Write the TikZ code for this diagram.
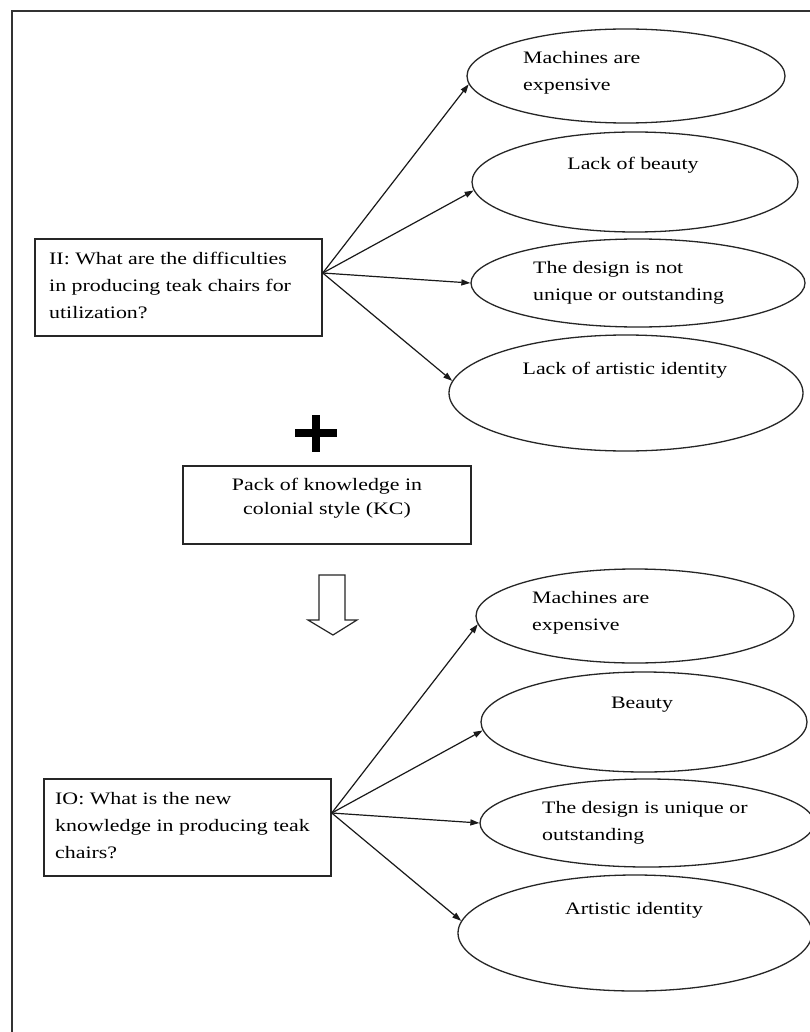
\documentclass[tikz,border=0pt]{standalone}
\usepackage{fontspec}
\setmainfont{Liberation Serif}[FakeStretch=1.25]
\usetikzlibrary{shapes.geometric,arrows.meta}
\begin{document}
\begin{tikzpicture}[x=1pt,y=-1pt,
  frame/.style={draw=black!80,line width=2pt},
  qbox/.style={draw=black!85,line width=1.5pt,rectangle,inner sep=0pt},
  oval/.style={draw=black!85,line width=1.3pt,ellipse,inner sep=0pt},
  txt/.style={inner sep=0pt,font=\fontsize{17.5}{27}\selectfont,align=left},
  link/.style={draw=black!90,line width=1.2pt,-{Triangle[length=9pt,width=6pt]}},
  hollow/.style={draw=black!85,line width=1.2pt,line join=miter,fill=white},
]
\clip (0,0) rectangle (810,1032);
\fill[white] (0,0) rectangle (810,1032);
\draw[frame] (12,11) rectangle (840,1060);

% ---- difficulties (II) ----
\node[qbox,minimum width=287pt,minimum height=97pt] (b1) at (178.5,287.5) {};
\node[txt,anchor=west] (t1) at (49,285) {II: What are the difficulties\\in producing teak chairs for\\utilization?};

\node[oval,minimum width=318pt,minimum height=94pt] (e1) at (626,76) {};
\node[oval,minimum width=326pt,minimum height=100pt] (e2) at (635,182) {};
\node[oval,minimum width=334pt,minimum height=88pt] (e3) at (638,283) {};
\node[oval,minimum width=354pt,minimum height=116pt] (e4) at (626,393) {};

\node[txt,anchor=west] (te1) at (523,73) {Machines are\\expensive};
\node[txt] (te2) at (633,165) {Lack of beauty};
\node[txt,anchor=west] (te3) at (533,283) {The design is not\\unique or outstanding};
\node[txt] (te4) at (625,370) {Lack of artistic identity};

\coordinate (o1) at ([yshift=14.5pt]b1.east);
\draw[link] (o1) -- (e1.183);
\draw[link] (o1) -- (e2.183);
\draw[link] (o1) -- (e3.180);
\draw[link] (o1) -- (e4.176);

% ---- plus sign ----
\fill[black] (295,429) rectangle (337,437);
\fill[black] (312,415) rectangle (320,452);

% ---- knowledge pack (KC) ----
\node[qbox,minimum width=288pt,minimum height=78pt] (kc) at (327,505) {};
\node[txt,align=center,font=\fontsize{17.5}{24}\selectfont] (tkc) at (327,498) {Pack of knowledge in\\colonial style (KC)};

% ---- hollow down arrow ----
\draw[hollow] (319,575) -- (345,575) -- (345,620) -- (357,620) -- (333,635) -- (308,620) -- (319,620) -- cycle;

% ---- new knowledge (IO) ----
\node[qbox,minimum width=287pt,minimum height=97pt] (b2) at (187.5,827.5) {};
\node[txt,anchor=west] (t2) at (55,826) {IO: What is the new\\knowledge in producing teak\\chairs?};

\node[oval,minimum width=318pt,minimum height=94pt] (e5) at (635,616) {};
\node[oval,minimum width=326pt,minimum height=100pt] (e6) at (644,722) {};
\node[oval,minimum width=334pt,minimum height=88pt] (e7) at (647,823) {};
\node[oval,minimum width=354pt,minimum height=116pt] (e8) at (635,933) {};

\node[txt,anchor=west] (te5) at (532,613) {Machines are\\expensive};
\node[txt] (te6) at (642,705) {Beauty};
\node[txt,anchor=west] (te7) at (542,823) {The design is unique or\\outstanding};
\node[txt] (te8) at (634,910) {Artistic identity};

\coordinate (o2) at ([yshift=14.5pt]b2.east);
\draw[link] (o2) -- (e5.183);
\draw[link] (o2) -- (e6.183);
\draw[link] (o2) -- (e7.180);
\draw[link] (o2) -- (e8.176);
\end{tikzpicture}
\end{document}
